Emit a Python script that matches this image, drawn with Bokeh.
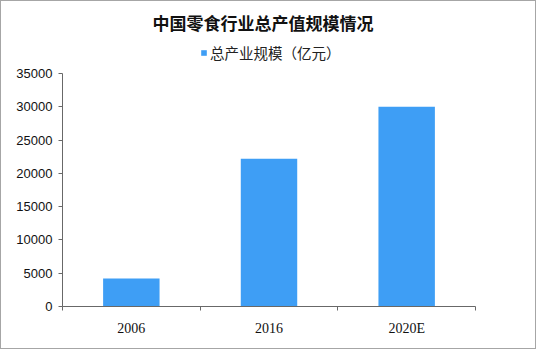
from bokeh.plotting import figure
from bokeh.models import (ColumnDataSource, FixedTicker, Range1d, Label, Legend, LegendItem)
from bokeh.embed import file_html
from bokeh.resources import INLINE

categories = ["2006", "2016", "2020E"]
values = [4200, 22200, 30000]
title_text = "中国零食行业总产值规模情况"
series_name = "总产业规模（亿元）"
y_ticks = [0, 5000, 10000, 15000, 20000, 25000, 30000, 35000]
y_max = 35000

W, H = 536, 349
left, right, top, bottom = 61, 62, 72, 44
frame_h = H - bottom
# frame spans the whole height above the axis so header texts are inside it
y_end = y_max * frame_h / (frame_h - top)

xs = [i + 0.5 for i in range(len(categories))]
src = ColumnDataSource(dict(x=xs, top=values, cat=categories))

p = figure(width=W, height=H, output_backend="svg", toolbar_location=None,
           x_range=Range1d(0, len(categories)), y_range=Range1d(0, y_end),
           min_border_left=left, min_border_right=right, min_border_top=0,
           min_border_bottom=bottom)
p.styles = {"border": "1px solid #a6a6a6"}
p.outline_line_color = None
p.grid.visible = False
p.background_fill_color = "white"
p.border_fill_color = "white"

r = p.vbar(x="x", top="top", width=0.41, bottom=0, source=src,
           fill_color="#3e9ef5", line_color=None)

axis_col = "#686868"
xa = p.xaxis[0]
xa.ticker = FixedTicker(ticks=xs, minor_ticks=list(range(len(categories) + 1)))
xa.major_label_overrides = {x: c for x, c in zip(xs, categories)}
xa.axis_line_color = axis_col
xa.major_tick_line_color = None
xa.major_tick_out = 0
xa.major_tick_in = 0
xa.minor_tick_line_color = axis_col
xa.minor_tick_out = 4
xa.minor_tick_in = 0
xa.major_label_standoff = 10
xa.major_label_text_font = "Liberation Serif"
xa.major_label_text_font_size = "14px"
xa.major_label_text_color = "#111111"

ya = p.yaxis[0]
ya.ticker = FixedTicker(ticks=y_ticks)
ya.bounds = (0, y_max)
ya.axis_line_color = axis_col
ya.major_tick_line_color = axis_col
ya.major_tick_out = 4
ya.major_tick_in = 0
ya.minor_tick_line_color = None
ya.major_label_standoff = 6
ya.major_label_text_font = "Liberation Sans"
ya.major_label_text_font_size = "13px"
ya.major_label_text_color = "#111111"

p.add_layout(Label(x=200.5, y=frame_h - 20.5, x_units="screen", y_units="screen",
                   text=title_text, text_font="Noto Sans CJK SC",
                   text_font_style="bold", text_font_size="17px",
                   text_color="#111111", text_align="center",
                   text_baseline="middle"))

legend = Legend(items=[LegendItem(label=series_name, renderers=[r])],
                location=(138, frame_h - 52 - 10), orientation="horizontal",
                glyph_width=7, glyph_height=7, label_standoff=3,
                label_text_font="Noto Sans CJK SC", label_text_font_size="14.5px",
                label_text_color="#222222", label_height=20,
                padding=0, margin=0, spacing=0,
                border_line_color=None, background_fill_alpha=0)
p.add_layout(legend, "center")

open("out.html", "w").write(file_html(p, INLINE))
